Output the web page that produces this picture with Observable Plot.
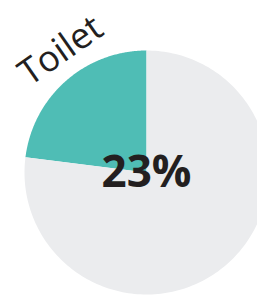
<!DOCTYPE html>
<html>
<head>
<meta charset="utf-8">
<script src="https://cdn.jsdelivr.net/npm/d3@7"></script>
<script src="https://cdn.jsdelivr.net/npm/@observablehq/plot@0.6"></script>
<style>
html, body { margin: 0; padding: 0; background: white; overflow: hidden; }
#chart svg { display: block; max-width: none; }
</style>
</head>
<body>
<div id="chart"></div>
<script>
const categories = ["Toilet", "Other"];
const values = [23, 77];
const colors = ["#4fbdb5", "#ebecee"];
const centerLabel = "23%";
const labelText = "Toilet";

const W = 257, H = 295;
const cx = 146, cy = 172, R = 122;
const total = d3.sum(values);

// build slice polygons (angles clockwise from 12 o'clock; first slice runs counter-clockwise)
let acc = 0;
const slices = categories.map((c, i) => {
  const a0 = -acc / total * 2 * Math.PI;
  acc += values[i];
  const a1 = -acc / total * 2 * Math.PI;
  const n = 200;
  const pts = [{x: 0, y: 0}];
  for (let k = 0; k <= n; k++) {
    const a = a0 + (a1 - a0) * k / n;
    pts.push({x: Math.sin(a), y: Math.cos(a)});
  }
  return {cat: c, color: colors[i], pts, mid: (a0 + a1) / 2};
});

const labelAngle = slices[0].mid + 0.11;
const labelR = 1.22;
const labelData = [{text: labelText, x: labelR * Math.sin(labelAngle), y: labelR * Math.cos(labelAngle)}];

const chart = Plot.plot({
  width: W,
  height: H,
  margin: 0,
  x: {domain: [-cx / R, (W - cx) / R], range: [0, W], axis: null},
  y: {domain: [-(H - cy) / R, cy / R], range: [H, 0], axis: null},
  style: {fontFamily: "'Open Sans', 'Noto Sans', sans-serif", background: "white"},
  marks: [
    ...slices.map(s => Plot.line(s.pts, {x: "x", y: "y", fill: s.color, stroke: "none", curve: "linear-closed"})),
    Plot.text([centerLabel], {x: () => 0, y: () => 0, text: d => d, fontSize: 44, fontWeight: "bold", fill: "#231f20", dy: 0}),
    Plot.text(labelData, {x: "x", y: "y", text: "text", fontSize: 36, fill: "#231f20", rotate: -35})
  ]
});
document.getElementById("chart").appendChild(chart);
</script>
</body>
</html>
